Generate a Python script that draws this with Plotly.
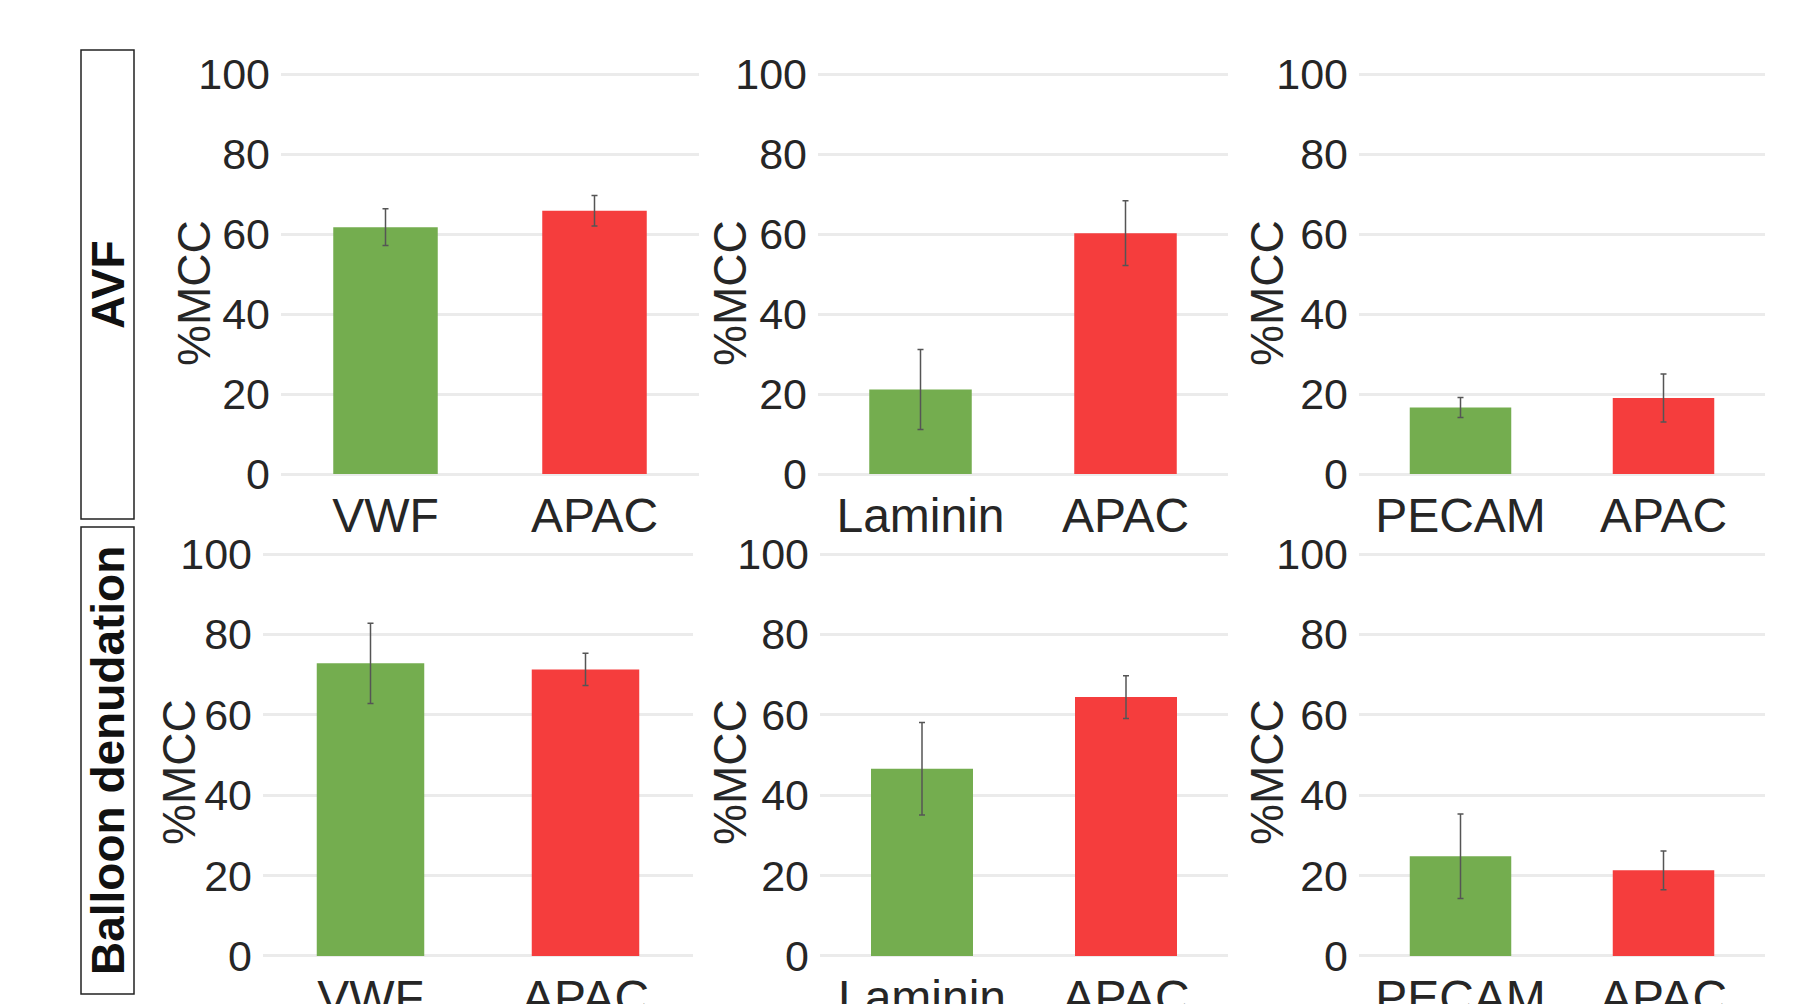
import plotly.graph_objects as go

# ---------------- data ----------------
avf_vwf_cats = ["VWF", "APAC"]
avf_vwf_vals = [61.7, 65.8]
avf_vwf_err = [4.6, 3.8]

avf_lam_cats = ["Laminin", "APAC"]
avf_lam_vals = [21.1, 60.2]
avf_lam_err = [10.0, 8.1]

avf_pecam_cats = ["PECAM", "APAC"]
avf_pecam_vals = [16.6, 19.0]
avf_pecam_err = [2.5, 6.0]

bd_vwf_cats = ["VWF", "APAC"]
bd_vwf_vals = [72.8, 71.3]
bd_vwf_err = [10.0, 4.0]

bd_lam_cats = ["Laminin", "APAC"]
bd_lam_vals = [46.6, 64.4]
bd_lam_err = [11.5, 5.3]

bd_pecam_cats = ["PECAM", "APAC"]
bd_pecam_vals = [24.8, 21.3]
bd_pecam_err = [10.5, 4.8]

y_ticks = [0, 20, 40, 60, 80, 100]
row_labels = ["AVF", "Balloon denudation"]
y_title = "%MCC"

# ---------------- styling ----------------
W, H = 1811, 1004
GREEN = "#74ad4f"
RED = "#f53d3d"
FONT = "Liberation Sans, Arial, sans-serif"
TXT = "#262626"

panels = [
    (avf_vwf_cats, avf_vwf_vals, avf_vwf_err),
    (avf_lam_cats, avf_lam_vals, avf_lam_err),
    (avf_pecam_cats, avf_pecam_vals, avf_pecam_err),
    (bd_vwf_cats, bd_vwf_vals, bd_vwf_err),
    (bd_lam_cats, bd_lam_vals, bd_lam_err),
    (bd_pecam_cats, bd_pecam_vals, bd_pecam_err),
]

# pixel extents of plot areas
x_px = [(281, 699), (818, 1228), (1359, 1765), (263, 693), (820, 1228), (1359, 1765)]
y_px = [(70, 478)] * 3 + [(550, 960)] * 3
title_px = [(194, 293), (730, 293), (1267, 293), (179, 772), (730, 772), (1267, 772)]

fig = go.Figure()
layout = {}
for i, (cats, vals, errs) in enumerate(panels):
    n = i + 1
    xa = "x" if n == 1 else f"x{n}"
    ya = "y" if n == 1 else f"y{n}"
    fig.add_trace(go.Bar(
        x=cats, y=vals,
        xaxis=xa, yaxis=ya,
        width=0.5,
        marker=dict(color=[GREEN, RED], line=dict(width=0)),
        error_y=dict(type="data", array=errs, visible=True,
                     color="#555555", thickness=1.5, width=3),
        showlegend=False,
    ))
    x0, x1 = x_px[i]
    y0, y1 = y_px[i]
    layout[f"xaxis{'' if n == 1 else n}"] = dict(
        domain=[x0 / W, x1 / W], anchor=ya, automargin=False,
        type="category", range=[-0.5, 1.5],
        showgrid=False, showline=False, zeroline=False, ticks="",
        tickfont=dict(family=FONT, size=48, color=TXT),
        ticklabelstandoff=5,
    )
    layout[f"yaxis{'' if n == 1 else n}"] = dict(
        domain=[1 - y1 / H, 1 - y0 / H], anchor=xa, automargin=False,
        range=[-1, 101], tickvals=y_ticks,
        showgrid=True, gridcolor="#ebebeb", gridwidth=2.5,
        zeroline=False, showline=False, ticks="",
        tickfont=dict(family=FONT, size=43, color=TXT),
        ticklabelstandoff=10,
    )

annotations = []
for (tx, ty) in title_px:
    annotations.append(dict(
        text=y_title, x=tx / W, y=1 - ty / H, xref="paper", yref="paper",
        showarrow=False, textangle=-90, xanchor="center", yanchor="middle",
        font=dict(family=FONT, size=46, color=TXT),
    ))

boxes = [(81, 134, 50, 519), (81, 134, 527, 994)]
shapes = []
for (bx0, bx1, by0, by1), lab in zip(boxes, row_labels):
    shapes.append(dict(type="rect", xref="paper", yref="paper",
                       x0=bx0 / W, x1=bx1 / W, y0=1 - by1 / H, y1=1 - by0 / H,
                       line=dict(color="#222222", width=1.5), fillcolor="rgba(0,0,0,0)"))
    annotations.append(dict(
        text=f"<b>{lab}</b>", x=(bx0 + bx1) / 2 / W, y=1 - (by0 + by1) / 2 / H,
        xref="paper", yref="paper", showarrow=False, textangle=-90,
        xanchor="center", yanchor="middle",
        font=dict(family=FONT, size=46, color="#111111"),
    ))

fig.update_layout(
    width=W, height=H,
    margin=dict(l=0, r=0, t=0, b=0, autoexpand=False),
    paper_bgcolor="white", plot_bgcolor="white",
    annotations=annotations, shapes=shapes,
    bargap=0.5,
    **layout,
)

fig.write_html("out.html", config={"displayModeBar": False},
               post_script="document.body.style.margin='0';")
